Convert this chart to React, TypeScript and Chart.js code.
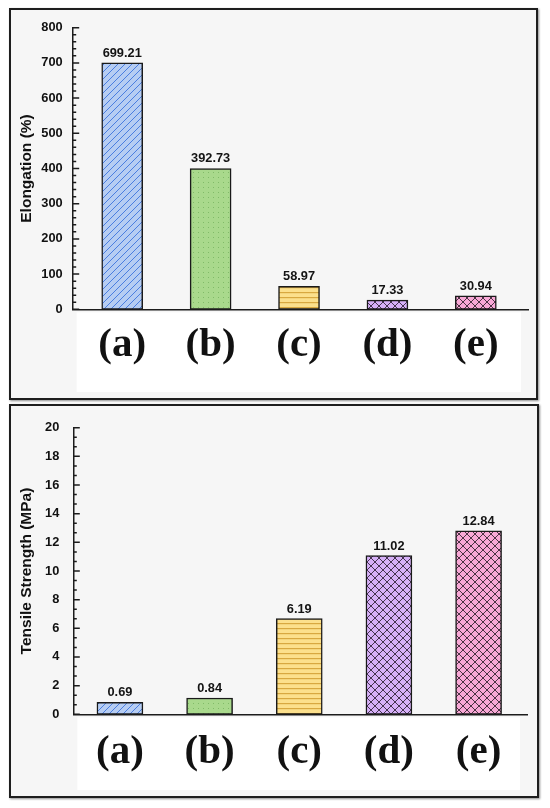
import React, { useEffect, useRef } from 'react';
import { Chart, registerables } from 'chart.js';

Chart.register(...registerables);

// samples, same order in both panels
const CATEGORIES = ['(a)', '(b)', '(c)', '(d)', '(e)'];

// bar heights as drawn, and the numbers printed over them
const ELONGATION_BARS = [700, 400, 65, 26, 38];
const ELONGATION_LABELS = ['699.21', '392.73', '58.97', '17.33', '30.94'];

const TENSILE_BARS = [0.84, 1.14, 6.68, 11.07, 12.8];
const TENSILE_LABELS = ['0.69', '0.84', '6.19', '11.02', '12.84'];

const FILLS = ['#b6cdf3', '#a9d98c', '#fce08c', '#d6b0f8', '#f8a8d6'];
const INKS = ['#4a7ee0', '#6fae57', '#d8a840', '#2b1f33', '#2e1f2a'];
const HATCH = ['diag', 'dots', 'horiz', 'cross', 'cross'] as const;

const SANS = '"Liberation Sans", Arial, sans-serif';
const SERIF = '"Liberation Serif", "Times New Roman", serif';

function makePattern(kind: string, fill: string, ink: string): CanvasPattern | string {
  const c = document.createElement('canvas');
  const size = kind === 'diag' ? 7 : kind === 'dots' ? 5 : kind === 'horiz' ? 5 : 8;
  c.width = size;
  c.height = size;
  const g = c.getContext('2d');
  if (!g) return fill;
  g.fillStyle = fill;
  g.fillRect(0, 0, size, size);
  g.strokeStyle = ink;
  g.fillStyle = ink;
  g.lineWidth = 1;
  if (kind === 'diag') {
    g.beginPath();
    g.moveTo(-1, size + 1); g.lineTo(size + 1, -1);
    g.moveTo(-1, 1); g.lineTo(1, -1);
    g.moveTo(size - 1, size + 1); g.lineTo(size + 1, size - 1);
    g.stroke();
  } else if (kind === 'dots') {
    g.globalAlpha = 0.7;
    g.fillRect(2, 2, 1, 1);
  } else if (kind === 'horiz') {
    g.fillRect(0, 2, size, 1.2);
  } else {
    g.globalAlpha = 0.85;
    g.beginPath();
    g.moveTo(0, 0); g.lineTo(size, size);
    g.moveTo(0, size); g.lineTo(size, 0);
    g.stroke();
  }
  return g.createPattern(c, 'repeat') ?? fill;
}

const panelBackground = {
  id: 'panelBackground',
  beforeDraw(chart: any) {
    const { ctx, chartArea, width, height } = chart;
    ctx.save();
    ctx.fillStyle = '#f6f6f6';
    ctx.fillRect(0, 0, width, height);
    ctx.fillStyle = '#ffffff';
    ctx.fillRect(chartArea.left + 4, chartArea.bottom + 3,
      chartArea.right - chartArea.left - 11, height - chartArea.bottom - 9);
    ctx.restore();
  },
};

// major + minor ticks pointing into the plot
const inwardTicks = {
  id: 'inwardTicks',
  afterDraw(chart: any, _args: any, opts: any) {
    const y = chart.scales.y;
    const { ctx, chartArea } = chart;
    const vals: number[] = y.ticks.map((t: any) => t.value);
    const minor = opts?.minor ?? 0;
    const x0 = chartArea.left;
    ctx.save();
    ctx.strokeStyle = '#1c1c1c';
    ctx.lineWidth = 1.5;
    ctx.beginPath();
    vals.forEach((v, i) => {
      const py = y.getPixelForValue(v);
      ctx.moveTo(x0, py); ctx.lineTo(x0 + 6.5, py);
      if (i < vals.length - 1) {
        const step = (vals[i + 1] - v) / (minor + 1);
        for (let k = 1; k <= minor; k++) {
          const p = y.getPixelForValue(v + k * step);
          ctx.moveTo(x0, p); ctx.lineTo(x0 + 3.5, p);
        }
      }
    });
    ctx.stroke();
    ctx.restore();
  },
};

const valueLabels = {
  id: 'valueLabels',
  afterDatasetsDraw(chart: any, _args: any, opts: any) {
    const { ctx } = chart;
    const meta = chart.getDatasetMeta(0);
    ctx.save();
    ctx.font = `bold 12.8px ${SANS}`;
    ctx.fillStyle = '#141414';
    ctx.textAlign = 'center';
    ctx.textBaseline = 'alphabetic';
    meta.data.forEach((bar: any, i: number) => {
      ctx.fillText(opts.labels[i], bar.x, bar.y - 6);
    });
    ctx.restore();
  },
};

type PanelProps = {
  bars: number[];
  labels: string[];
  title: string;
  yMax: number;
  yStep: number;
  minor: number;
  xMin: number;
  xMax: number;
  barWidth: number;
  top: number;
  w: number;
  h: number;
  yAxisW: number;
  padTop: number;
  padRight: number;
  xAxisH: number;
  tickPad: number;
  catPad: number;
  titlePad: number;
};

function BarPanel(p: PanelProps) {
  const ref = useRef<HTMLCanvasElement>(null);

  useEffect(() => {
    if (!ref.current) return;
    const patterns = HATCH.map((k, i) => makePattern(k, FILLS[i], INKS[i]));
    const chart = new Chart(ref.current, {
      type: 'bar',
      data: {
        datasets: [{
          data: p.bars.map((y, i) => ({ x: i, y })),
          backgroundColor: patterns as any,
          borderColor: '#1a1a1a',
          borderWidth: 1.5,
          borderSkipped: false,
          barThickness: p.barWidth,
        }],
      },
      options: {
        responsive: false,
        animation: false,
        layout: { padding: { top: p.padTop, right: p.padRight, left: 0, bottom: 0 } },
        plugins: {
          legend: { display: false },
          tooltip: { enabled: false },
          valueLabels: { labels: p.labels },
          inwardTicks: { minor: p.minor },
        } as any,
        scales: {
          x: {
            type: 'linear',
            offset: false,
            min: p.xMin,
            max: p.xMax,
            grid: { display: false, drawTicks: false },
            border: { display: true, color: '#1c1c1c', width: 1.5 },
            afterBuildTicks: (s: any) => { s.ticks = CATEGORIES.map((_, i) => ({ value: i })); },
            afterFit: (s: any) => { s.height = p.xAxisH; },
            ticks: {
              padding: p.catPad,
              color: '#111',
              font: { family: SERIF, size: 41, weight: 'bold' },
              callback: (v: any) => CATEGORIES[Math.round(Number(v))] ?? '',
              maxRotation: 0,
              autoSkip: false,
            },
          },
          y: {
            min: 0,
            max: p.yMax,
            grid: { display: false, drawTicks: false },
            border: { display: true, color: '#1c1c1c', width: 1.5 },
            afterFit: (s: any) => { s.width = p.yAxisW; },
            ticks: {
              stepSize: p.yStep,
              padding: p.tickPad,
              color: '#111',
              font: { family: SANS, size: 12.8, weight: 'bold' },
            },
            title: {
              display: true,
              text: p.title,
              color: '#111',
              font: { family: SANS, size: 15.5, weight: 'bold' },
              padding: { top: p.titlePad, bottom: 0 },
            },
          },
        },
      },
      plugins: [panelBackground, valueLabels, inwardTicks],
    });
    return () => chart.destroy();
  }, []);

  return (
    <div style={{
      position: 'absolute', left: 9, top: p.top, width: p.w + 4, height: p.h + 4,
      boxSizing: 'border-box', border: '2px solid #1e1e1e',
      boxShadow: '1px 1px 2px rgba(0,0,0,0.45)', background: '#f6f6f6',
    }}>
      <canvas ref={ref} width={p.w} height={p.h} style={{ display: 'block' }} />
    </div>
  );
}

export default function App() {
  return (
    <div style={{ position: 'absolute', left: 0, top: 0, width: 550, height: 808, background: '#ffffff' }}>
      <BarPanel
        bars={ELONGATION_BARS} labels={ELONGATION_LABELS} title="Elongation (%)"
        yMax={800} yStep={100} minor={4} xMin={-0.56} xMax={4.59} barWidth={41}
        top={8} w={525} h={388} yAxisW={61.7} padTop={13.5} padRight={8} xAxisH={88.7}
        tickPad={10} catPad={12} titlePad={6.5}
      />
      <BarPanel
        bars={TENSILE_BARS} labels={TENSILE_LABELS} title="Tensile Strength (MPa)"
        yMax={20} yStep={2} minor={2} xMin={-0.52} xMax={4.54} barWidth={46}
        top={404} w={526} h={390} yAxisW={62.3} padTop={16.3} padRight={10} xAxisH={81.7}
        tickPad={14} catPad={13.5} titlePad={6}
      />
    </div>
  );
}
